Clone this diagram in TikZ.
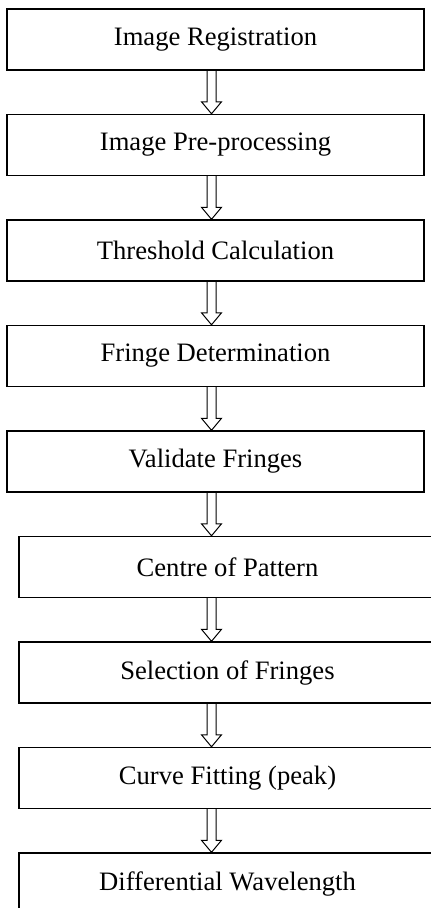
\documentclass[tikz,border=0pt]{standalone}
\usepackage{fontspec}
\setmainfont{Liberation Serif}
\usepackage{tikz}
\usetikzlibrary{calc}
\tikzstyle{stage} = [rectangle, minimum width=208.5pt, minimum height=30.5pt, inner sep=0pt, text centered, draw=black, line width=0.7pt, font=\fontsize{13.3}{16}\selectfont]
\tikzstyle{flowarrow} = [line width=0.5pt, line join=miter, to path={let \p1=(\tikztostart.south -| axis), \p2=(\tikztotarget.north -| axis) in (\x1-2.25pt,\y1) -- (\x2-2.25pt,\y2+6pt) -- (\x2-5pt,\y2+6pt) -- (\x2,\y2) -- (\x2+5pt,\y2+6pt) -- (\x2+2.25pt,\y2+6pt) -- (\x1+2.25pt,\y1)}]

\begin{document}
\begin{tikzpicture}[node distance=52.75pt]

    \useasboundingbox (0,0) rectangle (215.5pt,-454pt);
    \coordinate (axis) at (105.75pt,0);

    % Nodes
    \node (reg) [stage] at (107.75pt,-19.75pt) {Image Registration};
    \node (pre) [stage, below of=reg] {Image Pre-processing};
    \node (thresh) [stage, below of=pre] {Threshold Calculation};
    \node (fringe) [stage, below of=thresh] {Fringe Determination};
    \node (valid) [stage, below of=fringe] {Validate Fringes};
    \node (centre) [stage, below of=valid, xshift=6pt] {Centre of Pattern};
    \node (select) [stage, below of=centre] {Selection of Fringes};
    \node (fit) [stage, below of=select] {Curve Fitting (peak)};
    \node (diff) [stage, below of=fit] {Differential Wavelength};

    % Arrows
    \draw [flowarrow] (reg) to (pre);
    \draw [flowarrow] (pre) to (thresh);
    \draw [flowarrow] (thresh) to (fringe);
    \draw [flowarrow] (fringe) to (valid);
    \draw [flowarrow] (valid) to (centre);
    \draw [flowarrow] (centre) to (select);
    \draw [flowarrow] (select) to (fit);
    \draw [flowarrow] (fit) to (diff);

\end{tikzpicture}
\end{document}
